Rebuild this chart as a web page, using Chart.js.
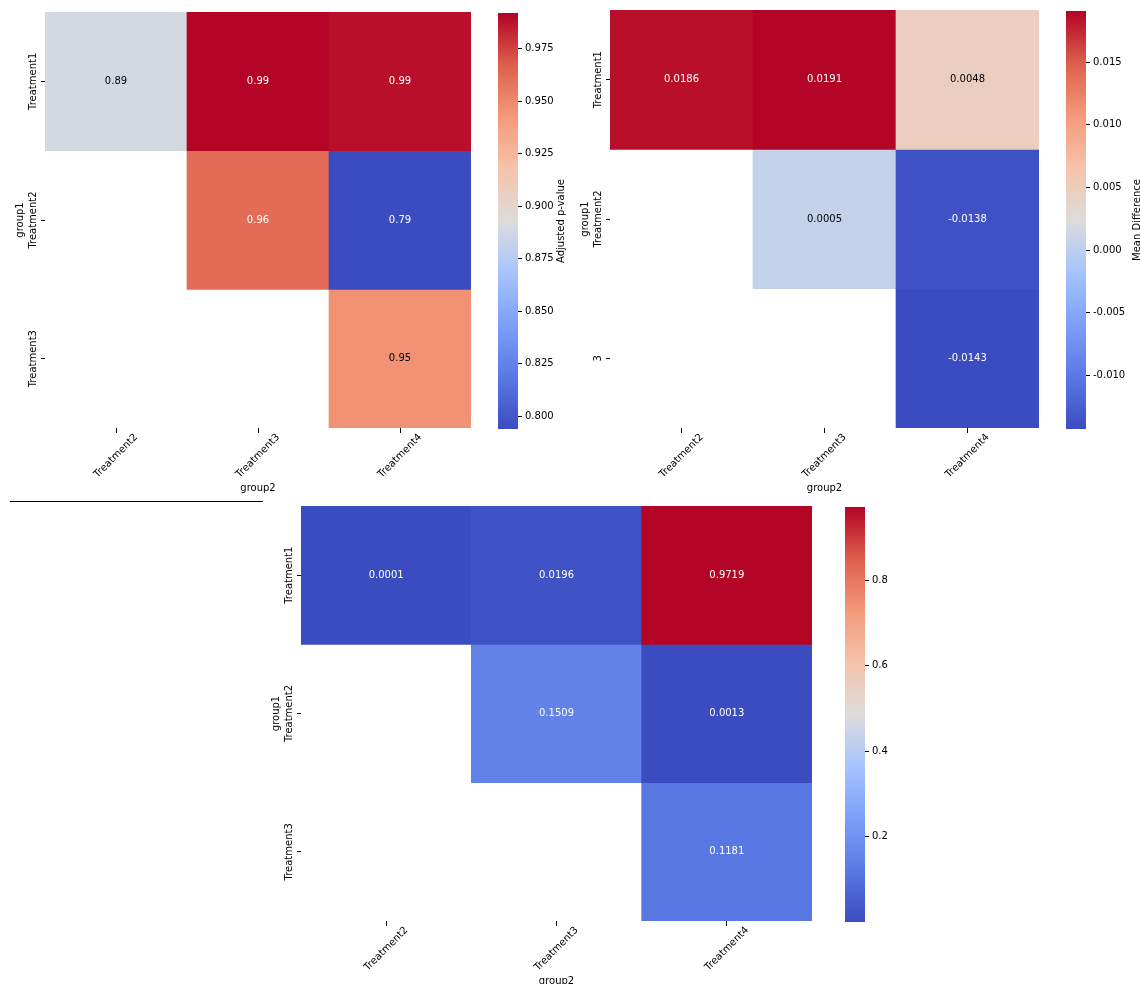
<!DOCTYPE html>
<html lang="en">
<head>
<meta charset="UTF-8">
<title>Tukey heatmaps</title>
<style>
  body { margin: 0; background: #fff; font-family: "DejaVu Sans", sans-serif; }
  #page { position: relative; width: 1140px; height: 984px; overflow: hidden; }
  canvas { position: absolute; }
  .rule { position: absolute; left: 10px; top: 501px; width: 253px; height: 1px; background: #000; }
</style>
</head>
<body>
<div id="page">
  <div class="rule"></div>
  <canvas id="h1"></canvas><canvas id="c1"></canvas>
  <canvas id="h2"></canvas><canvas id="c2"></canvas>
  <canvas id="h3"></canvas><canvas id="c3"></canvas>
</div>
<script src="https://cdn.jsdelivr.net/npm/chart.js"></script>
<script>
// data
const group2Labels = ['Treatment2', 'Treatment3', 'Treatment4'];
const group1Labels = ['Treatment1', 'Treatment2', 'Treatment3'];
const group1LabelsCut = ['Treatment1', 'Treatment2', '3'];

// rows = group1, cols = group2, null = empty cell
const pAdjRows = [
  [0.889, 0.992, 0.989],
  [null, 0.962, 0.794],
  [null, null, 0.946]
];
const meanDiffRows = [
  [0.0186, 0.0191, 0.0048],
  [null, 0.0005, -0.0138],
  [null, null, -0.0143]
];
const pValueRows = [
  [0.0001, 0.0196, 0.9719],
  [null, 0.1509, 0.0013],
  [null, null, 0.1181]
];

const FONT = { family: 'DejaVu Sans', size: 10 };
Chart.defaults.font = FONT;
Chart.defaults.color = '#000';

// coolwarm colormap
const cw = [
  [0.0, 59, 76, 192], [0.125, 90, 120, 228], [0.25, 124, 159, 249], [0.375, 166, 195, 254],
  [0.5, 221, 220, 220], [0.625, 245, 195, 171], [0.75, 244, 154, 123], [0.875, 221, 96, 76], [1.0, 180, 4, 38]
];
function cmap(t) {
  t = Math.max(0, Math.min(1, t));
  for (let i = 1; i < cw.length; i++) {
    if (t <= cw[i][0]) {
      const a = cw[i - 1], b = cw[i], f = (t - a[0]) / (b[0] - a[0]);
      return [0, 1, 2].map(k => Math.round(a[k + 1] + (b[k + 1] - a[k + 1]) * f));
    }
  }
  return cw[cw.length - 1].slice(1);
}
const rgb = c => `rgb(${c[0]},${c[1]},${c[2]})`;
function lum(c) {
  const l = c.map(v => { v /= 255; return v <= 0.03928 ? v / 12.92 : Math.pow((v + 0.055) / 1.055, 2.4); });
  return 0.2126 * l[0] + 0.7152 * l[1] + 0.0722 * l[2];
}

function setup(id, left, top, w, h) {
  const c = document.getElementById(id);
  c.width = w; c.height = h;
  c.style.left = left + 'px'; c.style.top = top + 'px';
  return c;
}

function text(ctx, s, x, y, rot) {
  ctx.save();
  ctx.translate(x, y);
  ctx.rotate(rot);
  ctx.font = '10px "DejaVu Sans"'; ctx.fillStyle = '#000';
  ctx.textAlign = 'center'; ctx.textBaseline = 'middle';
  ctx.fillText(s, 0, 0);
  ctx.restore();
}

const YW = 45, XH = 80;

function heatmap(id, areaL, areaT, areaW, areaH, rows, vmin, vmax, rowLabels, digits) {
  const cv = setup(id, areaL - YW, areaT, areaW + YW, areaH + XH);
  const tOf = v => (v - vmin) / (vmax - vmin);
  const datasets = rows.map((row, r) => ({
    data: row.map(v => v === null ? null : [r, r + 1]),
    vals: row,
    backgroundColor: row.map(v => v === null ? 'rgba(0,0,0,0)' : rgb(cmap(tOf(v)))),
    borderWidth: 0,
    grouped: false,
    barPercentage: 1,
    categoryPercentage: 1
  }));
  const annot = {
    id: 'annot',
    afterDatasetsDraw(chart) {
      const ctx = chart.ctx, a = chart.chartArea;
      ctx.save();
      ctx.font = '10px "DejaVu Sans"';
      ctx.textAlign = 'center'; ctx.textBaseline = 'middle';
      chart.data.datasets.forEach((ds, i) => {
        chart.getDatasetMeta(i).data.forEach((el, j) => {
          const v = ds.vals[j];
          if (v === null) return;
          const col = cmap(tOf(v));
          ctx.fillStyle = lum(col) > 0.39 ? '#000' : '#fff';
          ctx.fillText(v.toFixed(digits), el.x, (el.y + el.base) / 2);
        });
      });
      ctx.restore();
      const ys = chart.scales.y, xs = chart.scales.x;
      rowLabels.forEach((s, i) => text(ctx, s, a.left - 12, ys.getPixelForValue(i + 0.5), -Math.PI / 2));
      text(ctx, 'group1', a.left - 25, ys.getPixelForValue(1.5), -Math.PI / 2);
      group2Labels.forEach((s, i) => text(ctx, s, xs.getPixelForValue(i), a.bottom + 28, -Math.PI / 4));
      text(ctx, 'group2', (a.left + a.right) / 2, a.bottom + 60, 0);
    }
  };
  new Chart(cv, {
    type: 'bar',
    data: { labels: group2Labels, datasets },
    options: {
      responsive: false, animation: false, events: [],
      layout: { padding: 0, autoPadding: false },
      plugins: { legend: { display: false }, tooltip: { enabled: false } },
      scales: {
        x: {
          grid: { drawOnChartArea: false, offset: false, tickLength: 5, color: '#000' },
          border: { display: false },
          ticks: { display: false },
          afterFit(s) { s.height = XH; }
        },
        y: {
          min: 0, max: 3, reverse: true,
          afterBuildTicks(s) { s.ticks = [0.5, 1.5, 2.5].map(v => ({ value: v })); },
          grid: { drawOnChartArea: false, tickLength: 4, color: '#000' },
          border: { display: false },
          ticks: { display: false },
          afterFit(s) { s.width = YW; }
        }
      }
    },
    plugins: [annot]
  });
}

function colorbar(id, left, top, h, vmin, vmax, step, digits, label, labelOff) {
  const cv = setup(id, left, top - 8, 100, h + 18);
  const grad = {
    id: 'grad',
    beforeDatasetsDraw(chart) {
      const a = chart.chartArea, ctx = chart.ctx;
      for (let y = a.top; y < a.bottom; y++) {
        ctx.fillStyle = rgb(cmap((a.bottom - y) / (a.bottom - a.top)));
        ctx.fillRect(a.left, y, a.right - a.left, Math.min(1.5, a.bottom - y));
      }
      if (label) text(ctx, label, a.right + labelOff, (a.top + a.bottom) / 2, -Math.PI / 2);
    }
  };
  new Chart(cv, {
    type: 'bar',
    data: { labels: [''], datasets: [] },
    options: {
      responsive: false, animation: false, events: [],
      layout: { padding: { top: 0, bottom: 0 }, autoPadding: false },
      plugins: { legend: { display: false }, tooltip: { enabled: false } },
      scales: {
        x: { display: false },
        y: {
          position: 'right', min: vmin, max: vmax,
          grid: { drawOnChartArea: false, tickLength: 4, color: '#000' },
          border: { display: false },
          ticks: { stepSize: step, padding: 3, callback: v => v.toFixed(digits) },
          afterBuildTicks(s) { s.ticks = s.ticks.filter(t => t.value > vmin + 1e-9 && t.value < vmax - 1e-9); },
          afterFit(s) { s.width = 80; }
        }
      }
    },
    plugins: [grad]
  });
}

heatmap('h1', 45, 12, 426, 416, pAdjRows, 0.794, 0.992, group1Labels, 2);
colorbar('c1', 498, 12, 416, 0.794, 0.992, 0.025, 3, 'Adjusted p-value', 43);

heatmap('h2', 610, 10, 429, 418, meanDiffRows, -0.0143, 0.0191, group1LabelsCut, 4);
colorbar('c2', 1066, 10, 418, -0.0143, 0.0191, 0.005, 3, 'Mean Difference', 51);

heatmap('h3', 301, 506, 511, 415, pValueRows, 0.0001, 0.9719, group1Labels, 4);
colorbar('c3', 845, 506, 415, 0.0001, 0.9719, 0.2, 1, '', 0);
</script>
</body>
</html>
